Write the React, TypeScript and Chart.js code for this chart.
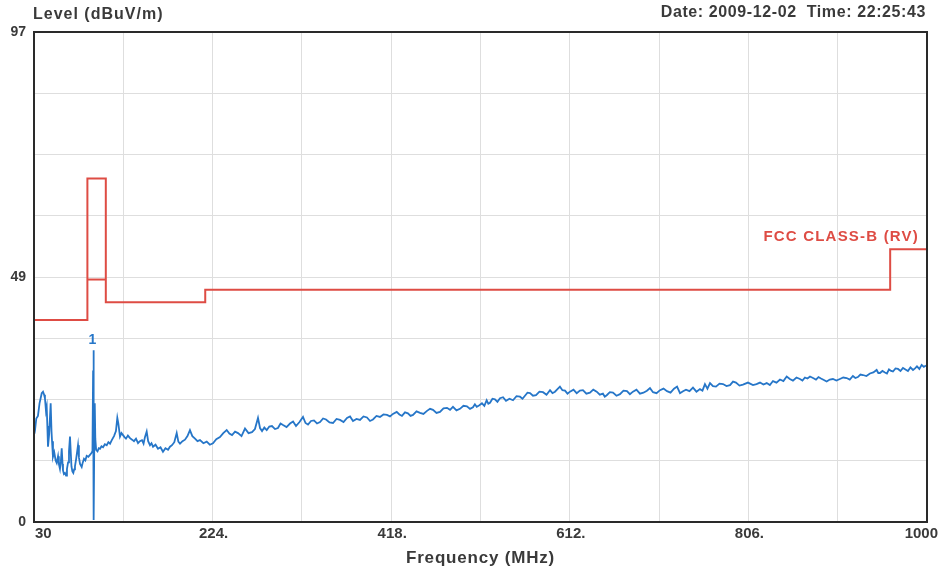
import React, { useEffect, useRef } from 'react';
import { Chart, registerables } from 'chart.js';
Chart.register(...registerables);

const titleText = 'Level (dBuV/m)';
const dateText = 'Date: 2009-12-02  Time: 22:25:43';
const xAxisTitle = 'Frequency (MHz)';
const limitName = 'FCC CLASS-B (RV)';
const markerLabel = '1';
const markerFreq = 94.5;
const markerLevel = 34;

const xGridValues = [30, 127, 224, 321, 418, 515, 612, 709, 806, 903, 1000];
const xTickValues = [30, 224, 418, 612, 806, 1000];
const xTickLabels = ['30', '224.', '418.', '612.', '806.', '1000'];
const yGridValues = [0, 12.125, 24.25, 36.375, 48.5, 60.625, 72.75, 84.875, 97];
const yTickLabels: Record<number, string> = { 0: '0', 48.5: '49', 97: '97' };

const limitLine: [number, number][] = [
  [30, 40], [88, 40], [88, 68], [108, 68], [108, 43.5], [216, 43.5], [216, 46], [960, 46], [960, 54], [1000, 54],
];
const limitInner: [number, number][] = [[88, 48], [108, 48]];

const measuredTrace: [number, number][] = [
  [30.5, 17.5], [31.1, 18.2], [32.5, 20.5], [34.3, 21.0], [36, 23.5], [38.4, 25.5], [39.8, 25.8], [41, 25.2],
  [41.9, 24.5], [43, 22.0], [43.8, 22.8], [44.5, 19.0], [45.2, 14.9], [46.5, 17.5], [48.1, 23.5], [49, 18.0],
  [49.6, 16.0], [50.6, 12.9], [52, 13.8], [53.5, 12.2], [54.7, 11.7], [56.1, 13.0], [57, 11.5], [58.2, 10.5],
  [59.2, 12.0], [60.1, 14.6], [61, 11.5], [61.5, 10.2], [62.5, 9.5], [63.7, 9.7], [64.8, 9.2], [65.8, 10.5],
  [67, 11.8], [68, 14.0], [69.1, 16.9], [70, 13.5], [70.7, 11.0], [71.7, 10.0], [72.7, 9.7], [73.6, 10.4],
  [74.5, 11.0], [75.8, 12.5], [77.8, 15.2], [78.8, 12.8], [80, 11.5], [81.8, 10.9], [83, 11.8], [84.3, 12.5],
  [85.8, 12.2], [87.2, 13.1], [89, 12.9], [90.8, 13.3], [92.2, 13.6], [93.5, 14.0], [94.2, 30.0], [94.5, 34.0],
  [94.8, 18.0], [95.1, 0.4], [95.5, 16.0], [96, 23.5], [96.6, 16.5], [97.5, 14.3], [99, 14.0], [100.4, 14.6],
  [101.7, 14.5], [103.3, 15.0], [105, 14.8], [107, 15.4], [109, 15.2], [110.8, 15.8], [112.6, 15.5], [114.5, 16.2],
  [116.9, 17.0], [119, 18.0], [120.5, 20.6], [121.6, 19.5], [123.4, 16.9], [125, 17.6], [126.7, 17.2], [128.3, 16.8],
  [129.9, 16.5], [132, 17.1], [134.3, 16.6], [136.5, 16.3], [138.6, 16.0], [140.8, 16.5], [143, 15.6], [145, 16.0],
  [147.3, 16.2], [149, 15.5], [150.5, 16.8], [152.4, 17.9], [154, 16.0], [156, 15.2], [157.6, 15.6], [159.3, 14.9],
  [162, 15.3], [164.7, 14.5], [167.4, 14.8], [170.1, 13.9], [172.8, 14.6], [175.6, 14.3], [177.7, 14.9], [179.9, 15.2],
  [182.4, 15.8], [185, 17.6], [186.8, 15.9], [188.6, 15.5], [191.3, 16.0], [194, 16.3], [196.7, 17.0], [199.4, 18.2],
  [202, 17.0], [204.9, 16.5], [207.6, 16.0], [210.3, 16.2], [214, 15.6], [217.6, 15.9], [221, 15.3], [224.4, 15.6],
  [228, 16.4], [232, 16.8], [235.6, 17.6], [239.3, 18.2], [242.2, 17.5], [245.1, 17.2], [248.4, 17.9], [251.6, 17.6],
  [255.4, 17.0], [259.2, 18.5], [263, 17.6], [266.8, 17.8], [270, 18.4], [273.3, 20.6], [275.5, 18.6], [277.7, 18.0],
  [280.2, 18.7], [282.8, 18.2], [285.6, 18.9], [288.5, 19.0], [291.8, 18.4], [295, 18.6], [297.8, 19.5], [300.5, 19.2],
  [304.3, 18.8], [308.1, 19.5], [311.4, 19.9], [314.6, 19.0], [318.4, 19.8], [322.2, 20.8], [324.9, 19.6], [327.6, 19.3],
  [330.9, 20.0], [334.1, 20.1], [337.4, 19.5], [340.7, 19.8], [344, 20.5], [347.2, 20.3], [351, 19.7], [354.8, 19.6],
  [358.6, 20.4], [362.4, 20.2], [366.2, 19.8], [370, 20.6], [373.3, 20.9], [376.5, 20.0], [380.3, 20.4], [384.1, 20.2],
  [387.9, 20.9], [391.7, 20.7], [395, 20.0], [398.2, 20.3], [402, 21.0], [405.8, 20.8], [409.6, 21.3], [413.4, 21.2],
  [416.7, 20.9], [419.9, 21.4], [424, 21.8], [426.9, 21.3], [429.7, 21.0], [433, 21.7], [436.2, 21.5], [439, 21.0],
  [441.7, 21.2], [445.5, 21.9], [449.3, 21.6], [453, 21.4], [456.9, 22.0], [460.2, 22.4], [463.4, 22.2], [467.2, 21.6],
  [471, 21.8], [474.8, 22.5], [478.6, 22.6], [481.9, 22.2], [485.1, 22.8], [488.9, 22.1], [492.7, 22.4], [496.5, 23.0],
  [500.3, 22.9], [503.6, 22.4], [506.8, 22.7], [508.9, 23.3], [510.9, 22.8], [513.8, 23.1], [516.6, 23.5], [519.2, 23.0],
  [521.7, 24.1], [523.5, 23.4], [525.3, 23.6], [528, 24.4], [530.7, 24.3], [533.4, 23.8], [536.2, 24.5], [539.5, 24.7],
  [542.7, 24.0], [546.5, 24.4], [550.3, 24.1], [554.1, 24.9], [557.9, 24.8], [560.6, 24.4], [563.3, 25.0], [566, 25.6],
  [568.8, 25.5], [572, 25.0], [575.3, 25.1], [579, 25.8], [582.9, 25.7], [586.7, 25.2], [590.5, 26.1], [593.2, 25.5],
  [595.9, 25.8], [598.6, 26.3], [601.3, 26.8], [604, 26.1], [606.8, 26.0], [609.5, 25.4], [612.2, 25.8], [616, 26.2],
  [619.5, 25.5], [623, 26.0], [626.3, 26.1], [630, 25.4], [633.9, 25.6], [637.5, 26.2], [641.2, 25.8], [644.6, 25.2],
  [648, 25.4], [650, 24.8], [652.1, 25.1], [655.5, 25.7], [658.9, 25.6], [662.7, 25.0], [666.5, 25.3], [670.3, 26.0],
  [674.1, 25.9], [677.3, 25.3], [680.6, 25.8], [684.4, 26.2], [688.2, 25.4], [692, 25.6], [695.8, 26.0], [699.1, 26.5],
  [702.4, 25.7], [706.2, 25.5], [710, 26.1], [713.8, 26.4], [717.6, 25.9], [721.4, 25.6], [725.2, 26.4], [728.5, 26.8],
  [731.7, 25.5], [735, 25.9], [738.2, 26.2], [742, 25.9], [745.8, 26.6], [749.6, 25.8], [753.4, 26.3], [756.1, 26.0],
  [758.8, 27.3], [761.5, 26.4], [764.3, 27.5], [767.5, 26.9], [770.8, 26.8], [774.6, 27.4], [778.4, 27.3], [782.2, 26.9],
  [786, 27.1], [789.3, 27.8], [792.5, 27.6], [796.3, 27.0], [800.1, 27.2], [805.5, 27.6], [811, 27.1], [814.8, 27.3],
  [818.6, 27.6], [822.3, 27.2], [825.9, 27.5], [829.3, 27.1], [832.7, 27.9], [836.5, 27.6], [840.3, 28.2], [844, 27.9],
  [847.6, 28.8], [851, 28.3], [854.4, 28.0], [858.2, 28.6], [862, 28.3], [864.7, 28.0], [867.4, 28.6], [870.2, 28.4],
  [872.9, 28.8], [876.2, 28.5], [879.4, 28.2], [882.1, 28.7], [884.8, 28.4], [888, 28.1], [891, 27.8], [894.4, 28.2],
  [897.8, 28.3], [901.6, 28.0], [905.4, 28.3], [909, 28.6], [912.7, 28.5], [916.1, 28.2], [919.5, 28.9], [922.2, 28.5],
  [924.9, 28.7], [927.7, 29.2], [930.4, 29.1], [934.2, 28.9], [938, 29.4], [941.7, 29.6], [945.3, 30.1], [947.1, 29.5],
  [948.9, 29.5], [951.6, 29.9], [954.3, 29.6], [956.5, 29.4], [958.7, 30.2], [961, 29.9], [963, 29.8], [965.8, 30.4],
  [968.5, 30.3], [971.2, 29.9], [973.9, 30.5], [976.6, 30.2], [979.3, 29.9], [982, 30.6], [984.8, 30.1], [987, 30.4],
  [989.1, 30.8], [991.7, 30.3], [994.2, 31.1], [996.5, 30.7], [998.9, 31.0],
];

const RED = 'rgb(222, 76, 68)';
const BLUE = 'rgb(38, 118, 200)';
const TEXT = '#3a3a3a';
const FONT = '"Liberation Sans", Arial, sans-serif';

const toXY = (arr: [number, number][]) => arr.map(([x, y]) => ({ x, y }));

const decorPlugin = {
  id: 'decor',
  afterDraw(chart: any) {
    const { ctx, chartArea, scales } = chart;
    const xs = scales.x;
    const ys = scales.y;
    ctx.save();
    // frame
    ctx.strokeStyle = '#2a2a2a';
    ctx.lineWidth = 2;
    ctx.strokeRect(chartArea.left, chartArea.top, chartArea.right - chartArea.left, chartArea.bottom - chartArea.top);
    ctx.textBaseline = 'middle';
    ctx.fillStyle = TEXT;
    // header texts
    ctx.font = `bold 16px ${FONT}`;
    (ctx as any).letterSpacing = '1px';
    ctx.textAlign = 'left';
    ctx.fillText(titleText, 33, 15);
    ctx.font = `bold 16px ${FONT}`;
    (ctx as any).letterSpacing = '0.6px';
    ctx.textAlign = 'right';
    ctx.fillText(dateText, 926, 13);
    // x tick labels
    ctx.font = `bold 15px ${FONT}`;
    (ctx as any).letterSpacing = '0px';
    xTickValues.forEach((v, i) => {
      const px = xs.getPixelForValue(v);
      if (i === 0) {
        ctx.textAlign = 'left';
        ctx.fillText(xTickLabels[i], px + 1, 534);
      } else if (i === xTickValues.length - 1) {
        ctx.textAlign = 'right';
        ctx.fillText(xTickLabels[i], px + 11, 534);
      } else {
        ctx.textAlign = 'center';
        ctx.fillText(xTickLabels[i], px + 1, 534);
      }
    });
    // x axis title
    ctx.font = `bold 17px ${FONT}`;
    (ctx as any).letterSpacing = '0.8px';
    ctx.textAlign = 'center';
    ctx.fillText(xAxisTitle, (chartArea.left + chartArea.right) / 2, 558);
    // marker
    (ctx as any).letterSpacing = '0px';
    ctx.fillStyle = BLUE;
    ctx.font = `bold 14px ${FONT}`;
    ctx.textAlign = 'center';
    ctx.fillText(markerLabel, xs.getPixelForValue(markerFreq) - 1, ys.getPixelForValue(markerLevel) - 10);
    // limit name
    ctx.fillStyle = RED;
    ctx.font = `bold 15px ${FONT}`;
    (ctx as any).letterSpacing = '1.2px';
    ctx.textAlign = 'right';
    ctx.fillText(limitName, xs.getPixelForValue(1000) - 8, ys.getPixelForValue(54) - 12);
    ctx.restore();
  },
};

export default function App() {
  const ref = useRef<HTMLCanvasElement | null>(null);
  useEffect(() => {
    document.body.style.margin = '0';
    if (!ref.current) return;
    const chart = new Chart(ref.current, {
      type: 'line',
      data: {
        datasets: [
          {
            data: toXY(measuredTrace),
            borderColor: BLUE,
            borderWidth: 1.8,
            pointRadius: 0,
            tension: 0,
          },
          {
            data: toXY(limitLine),
            borderColor: RED,
            borderWidth: 2,
            pointRadius: 0,
            tension: 0,
          },
          {
            data: toXY(limitInner),
            borderColor: RED,
            borderWidth: 2,
            pointRadius: 0,
            tension: 0,
          },
        ],
      },
      options: {
        responsive: false,
        animation: false,
        layout: { padding: { top: 32, right: 16, left: 0, bottom: 0 } },
        plugins: { legend: { display: false }, tooltip: { enabled: false }, title: { display: false } },
        scales: {
          x: {
            type: 'linear',
            min: 30,
            max: 1000,
            afterBuildTicks: (s: any) => { s.ticks = xGridValues.map((v) => ({ value: v })); },
            afterFit: (s: any) => { s.height = 49; s.paddingLeft = 0; s.paddingRight = 0; },
            grid: { color: '#dedede', lineWidth: 1, drawTicks: false },
            border: { display: false },
            ticks: { display: false },
          },
          y: {
            type: 'linear',
            min: 0,
            max: 97,
            afterBuildTicks: (s: any) => { s.ticks = yGridValues.map((v) => ({ value: v })); },
            afterFit: (s: any) => { s.width = 34; s.paddingTop = 0; s.paddingBottom = 0; },
            grid: { color: '#dedede', lineWidth: 1, drawTicks: false },
            border: { display: false },
            ticks: {
              autoSkip: false,
              padding: 8,
              color: TEXT,
              font: { family: FONT, size: 14, weight: 'bold' },
              callback: (v: any) => yTickLabels[v as number] ?? '',
            },
          },
        },
      },
      plugins: [decorPlugin],
    } as any);
    return () => chart.destroy();
  }, []);
  return <canvas ref={ref} width={943} height={571} style={{ display: 'block' }} />;
}
